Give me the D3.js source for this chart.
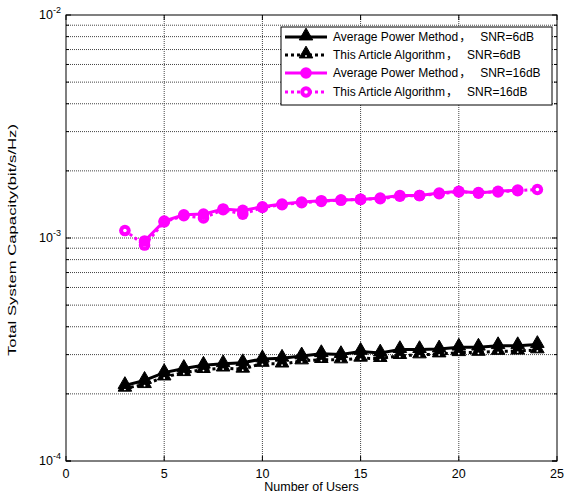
<!DOCTYPE html>
<html><head><meta charset="utf-8">
<script src="https://cdn.jsdelivr.net/npm/d3@7"></script>
<style>body{margin:0;background:#fff}svg{display:block;font-family:"Liberation Sans","Noto Sans CJK SC",Arial,sans-serif}</style>
</head><body><svg id="c" width="574" height="497"></svg>
<script>
const users = [3,4,5,6,7,8,9,10,11,12,13,14,15,16,17,18,19,20,21,22,23,24];
const avg6 = [2.18,2.30,2.49,2.60,2.69,2.73,2.76,2.87,2.89,2.96,3.03,3.00,3.10,3.05,3.16,3.16,3.18,3.24,3.24,3.29,3.29,3.33];
const alg6 = [2.12,2.20,2.38,2.49,2.57,2.61,2.58,2.74,2.72,2.81,2.85,2.84,2.89,2.88,2.97,2.99,3.02,3.06,3.07,3.10,3.11,3.15];
const avg16 = [null,0.97,1.19,1.27,1.28,1.35,1.33,1.38,1.42,1.45,1.47,1.48,1.49,1.51,1.55,1.55,1.59,1.62,1.59,1.62,1.64,null];
const alg16 = [1.08,0.93,1.18,1.26,1.23,1.34,1.28,1.37,1.41,1.44,1.46,1.48,1.49,1.50,1.54,1.55,1.58,1.61,1.60,1.61,1.63,1.65];
const scale6 = 1e-4, scale16 = 1e-3;
const xTicks = [0,5,10,15,20,25];
const yDecades = [-4,-3,-2];
const legendMethods = ["Average Power Method","This Article Algorithm","Average Power Method","This Article Algorithm"];
const legendSNR = ["SNR=6dB","SNR=6dB","SNR=16dB","SNR=16dB"];

const svg = d3.select("#c");
const L=66,R=557,T=15,B=461;
const x = d3.scaleLinear().domain([0,25]).range([L,R]);
const y = d3.scaleLog().domain([1e-4,1e-2]).range([B,T]);

// grid
const g = svg.append("g");
const minor=[];
for(const d of [-4,-3]) for(let k=1;k<10;k++) minor.push(k*Math.pow(10,d));
minor.push(1e-2);
g.selectAll("line.hy").data(minor.filter(v=>v>1e-4&&v<1e-2)).join("line")
 .attr("x1",L).attr("x2",R).attr("y1",d=>y(d)).attr("y2",d=>y(d))
 .attr("stroke","#444").attr("stroke-width",1).attr("stroke-dasharray","1,1");
g.selectAll("line.vx").data(xTicks.slice(1,-1)).join("line")
 .attr("x1",d=>x(d)).attr("x2",d=>x(d)).attr("y1",T).attr("y2",B)
 .attr("stroke","#444").attr("stroke-width",1).attr("stroke-dasharray","1,1");

// tick marks
const ax = svg.append("g");
minor.concat([1e-4]).forEach(v=>{
  const big = [1e-4,1e-3,1e-2].includes(v);
  const len = big?5:3;
  ax.append("line").attr("x1",L).attr("x2",L+len).attr("y1",y(v)).attr("y2",y(v)).attr("stroke","#000");
  ax.append("line").attr("x1",R).attr("x2",R-len).attr("y1",y(v)).attr("y2",y(v)).attr("stroke","#000");
});
xTicks.forEach(v=>{
  ax.append("line").attr("x1",x(v)).attr("x2",x(v)).attr("y1",B).attr("y2",B-5).attr("stroke","#000");
  ax.append("line").attr("x1",x(v)).attr("x2",x(v)).attr("y1",T).attr("y2",T+5).attr("stroke","#000");
  ax.append("text").attr("x",x(v)).attr("y",B+17).attr("text-anchor","middle").attr("font-size",12.5).text(v);
});
yDecades.forEach(d=>{
  const t = ax.append("text").attr("x",L-5).attr("y",y(Math.pow(10,d))+4).attr("text-anchor","end").attr("font-size",12.5);
  t.append("tspan").text("10");
  t.append("tspan").attr("dy",-6).attr("font-size",9).text(String(d));
});
ax.append("rect").attr("x",L).attr("y",T).attr("width",R-L).attr("height",B-T).attr("fill","none").attr("stroke","#000").attr("stroke-width",1);

// labels
svg.append("text").attr("x",(L+R)/2).attr("y",491).attr("text-anchor","middle").attr("font-size",12.5).text("Number of Users");
svg.append("text").attr("transform",`translate(16,${(T+B)/2+2}) rotate(-90)`).attr("text-anchor","middle").attr("font-size",11)
  .attr("textLength",232).attr("lengthAdjust","spacingAndGlyphs").text("Total System Capacity(bit/s/Hz)");

const line = d3.line().defined(d=>d[1]!=null).x(d=>x(d[0])).y(d=>y(d[1]));
const tri = d3.symbol().type(d3.symbolTriangle).size(80);
const series = [
 {vals:alg6,k:scale6,color:"#000",dash:"3,3",marker:"tri",hollow:true},
 {vals:avg6,k:scale6,color:"#000",dash:null,marker:"tri",hollow:false},
 {vals:alg16,k:scale16,color:"#ff00ff",dash:"3,3",marker:"circ",hollow:true},
 {vals:avg16,k:scale16,color:"#ff00ff",dash:null,marker:"circ",hollow:false},
];
function drawMarker(sel,s,px,py){
  if(s.marker==="tri"){
    sel.append("path").attr("d",tri()).attr("transform",`translate(${px},${py-1})`).attr("fill",s.color).attr("stroke",s.color).attr("stroke-width",1);
    if(s.hollow) sel.append("circle").attr("cx",px).attr("cy",py+1).attr("r",0.9).attr("fill","#fff");
  } else {
    sel.append("circle").attr("cx",px).attr("cy",py).attr("r",5.8).attr("fill",s.color);
    if(s.hollow) sel.append("circle").attr("cx",px).attr("cy",py).attr("r",1.8).attr("fill","#fff");
  }
}
series.forEach(s=>{
  const pts = users.map((u,i)=>[u,s.vals[i]==null?null:s.vals[i]*s.k]);
  const gg = svg.append("g");
  gg.append("path").attr("d",line(pts)).attr("fill","none").attr("stroke",s.color).attr("stroke-width",3).attr("stroke-dasharray",s.dash);
  pts.filter(p=>p[1]!=null).forEach(p=>drawMarker(gg,s,x(p[0]),y(p[1])));
});

// legend
const lg = svg.append("g");
lg.append("rect").attr("x",281).attr("y",27).attr("width",271).attr("height",78).attr("fill","#fff").attr("stroke","#000");
const lsStyles=[series[1],series[0],series[3],series[2]];
const ly=[37,55,73,92];
legendMethods.forEach((t,i)=>{
  const s=lsStyles[i];
  lg.append("line").attr("x1",285).attr("x2",327).attr("y1",ly[i]).attr("y2",ly[i]).attr("stroke",s.color).attr("stroke-width",3).attr("stroke-dasharray",s.dash);
  drawMarker(lg,s,306,ly[i]);
  const txt = lg.append("text").attr("x",333).attr("y",ly[i]+4).attr("font-size",12).text(t);
  const w = txt.node().getComputedTextLength();
  lg.append("text").attr("x",333+w+1).attr("y",ly[i]+4).attr("font-size",12).attr("font-family","Noto Sans CJK SC").text("，");
  lg.append("text").attr("x",333+w+22).attr("y",ly[i]+4).attr("font-size",12).text(legendSNR[i]);
});
</script></body></html>
